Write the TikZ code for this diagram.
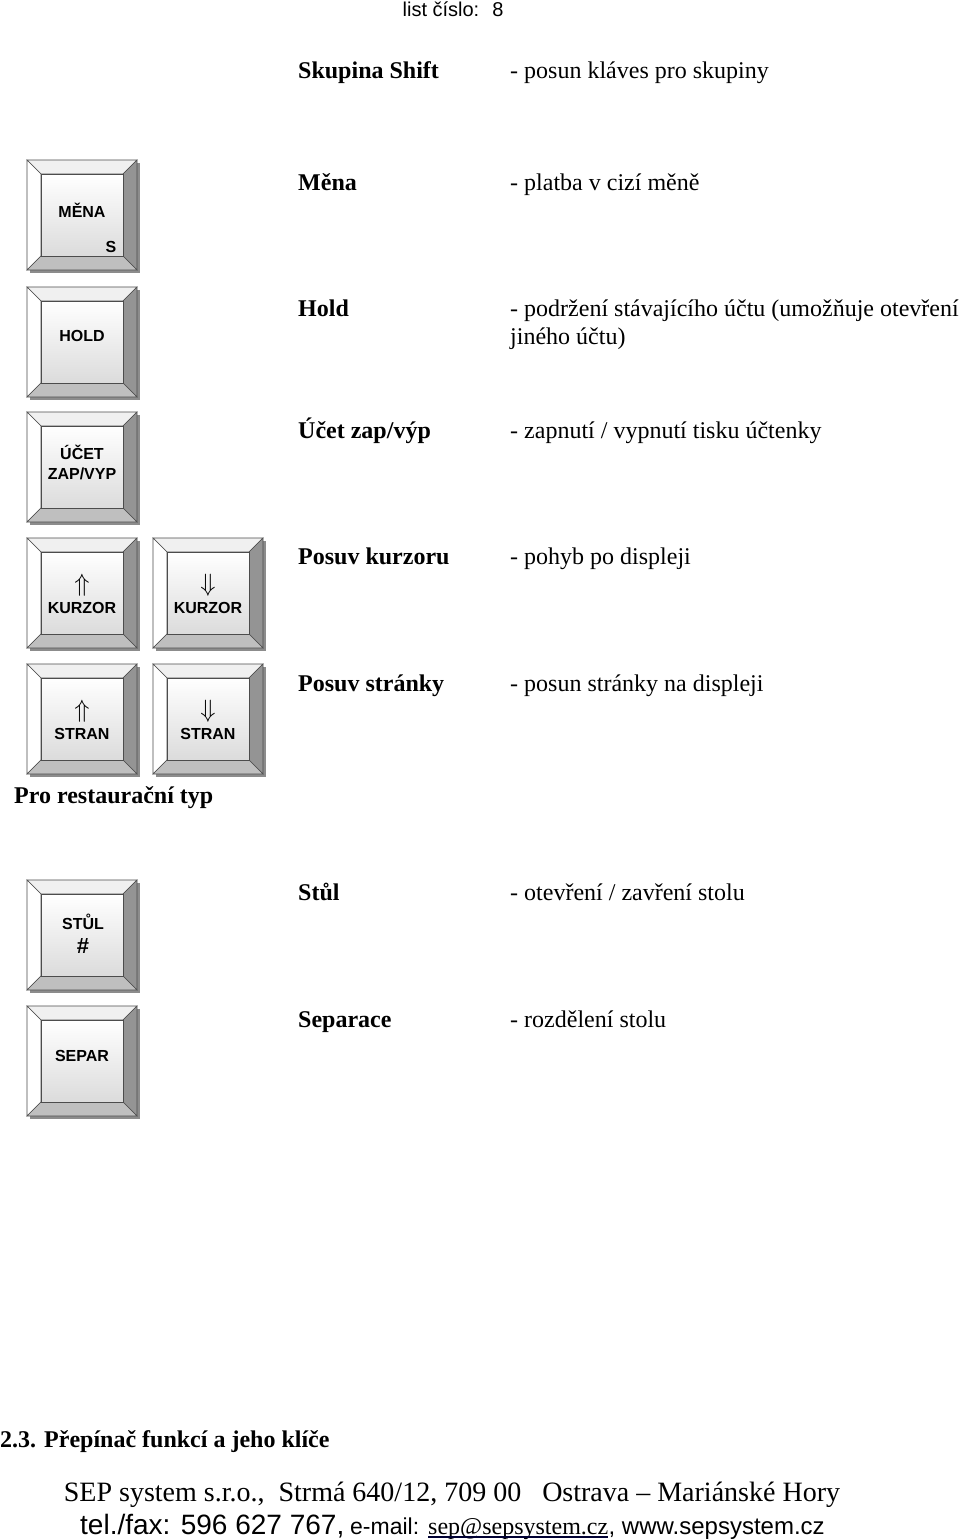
\documentclass[tikz,border=0pt]{standalone}
\usepackage{fontspec}
\setmainfont{Liberation Serif}
\setsansfont{Liberation Sans}
\usepackage{tikz}
\usetikzlibrary{calc}

\tikzset{
    keyshadow/.style = {fill = black!45},
    keyface/.style = {draw = black!70, line width = 0.6pt, top color = white, bottom color = black!14,
                      minimum width = 82pt, minimum height = 82pt, inner sep = 0pt},
    keylbl/.style = {font = \sffamily\bfseries\fontsize{16}{20}\selectfont, align = center, inner sep = 0pt},
    keyarrow/.style = {inner sep = 0pt}
}
\tikzset{
    rowname/.style = {anchor = base west, inner sep = 0pt, font = \bfseries\fontsize{24}{28}\selectfont},
    rowdesc/.style = {anchor = base west, inner sep = 0pt, font = \fontsize{24}{28}\selectfont}
}

\begin{document}
\begin{tikzpicture}[x = 1pt, y = -1pt]
    \useasboundingbox[fill = white] (0,0) rectangle (960,1540);

    % keys
    \foreach \nm/\kx/\ky in {mena/27/160, hold/27/287, ucet/27/412, kup/27/538, kdown/153/538,
                             sup/27/664, sdown/153/664, stul/27/880, separ/27/1006}{
        \fill[keyshadow] (\kx+3,\ky+3) rectangle (\kx+113,\ky+113);
        \draw[black!70, line width = 0.6pt, fill = black!6]
            (\kx,\ky) -- (\kx+110,\ky) -- (\kx+96,\ky+14) -- (\kx+14,\ky+14) -- cycle;
        \draw[black!70, line width = 0.6pt, fill = white]
            (\kx,\ky) -- (\kx+14,\ky+14) -- (\kx+14,\ky+96) -- (\kx,\ky+110) -- cycle;
        \draw[black!70, line width = 0.6pt, fill = black!42]
            (\kx+110,\ky) -- (\kx+110,\ky+110) -- (\kx+96,\ky+96) -- (\kx+96,\ky+14) -- cycle;
        \draw[black!70, line width = 0.6pt, fill = black!25]
            (\kx,\ky+110) -- (\kx+110,\ky+110) -- (\kx+96,\ky+96) -- (\kx+14,\ky+96) -- cycle;
        \node[keyface] (\nm) at (\kx+55,\ky+55) {};
    }

    % key labels
    \node[keylbl] (menaL) at (82,210) {MĚNA};
    \node[keylbl] (menaS) at (111,247) {S};
    \node[keylbl] (holdL) at (82,336) {HOLD};
    \node[keylbl] (ucetL) at (82,462) {ÚČET\\ZAP/VYP};
    \node[keyarrow] (kupA) at (82,585) {\scalebox{2.5}{$\Uparrow$}};
    \node[keylbl] (kupL) at (82,608) {KURZOR};
    \node[keyarrow] (kdownA) at (208,585) {\scalebox{2.5}{$\Downarrow$}};
    \node[keylbl] (kdownL) at (208,608) {KURZOR};
    \node[keyarrow] (supA) at (82,711) {\scalebox{2.5}{$\Uparrow$}};
    \node[keylbl] (supL) at (82,734) {STRAN};
    \node[keyarrow] (sdownA) at (208,711) {\scalebox{2.5}{$\Downarrow$}};
    \node[keylbl] (sdownL) at (208,734) {STRAN};
    \node[keylbl] (stulL) at (83,922) {STŮL};
    \node[keylbl, font = \sffamily\bfseries\fontsize{22}{24}\selectfont] (stulH) at (83,946) {\#};
    \node[keylbl] (separL) at (82,1056) {SEPAR};

    % header
    \node[anchor = base, inner sep = 0pt, font = \sffamily\fontsize{20}{24}\selectfont] (list) at (453,16) {list číslo:~ 8};

    % rows
    \node[rowname] (skupN) at (298,78) {Skupina Shift};
    \node[rowdesc] (skupD) at (510,78) {- posun kláves pro skupiny};
    \node[rowname] (menaN) at (298,190) {Měna};
    \node[rowdesc] (menaD) at (510,190) {- platba v cizí měně};
    \node[rowname] (holdN) at (298,316) {Hold};
    \node[rowdesc] (holdD) at (510,316) {- podržení stávajícího účtu (umožňuje otevření};
    \node[rowdesc] (holdD2) at (510,344) {jiného účtu)};
    \node[rowname] (ucetN) at (298,438) {Účet zap/výp};
    \node[rowdesc] (ucetD) at (510,438) {- zapnutí / vypnutí tisku účtenky};
    \node[rowname] (kurzN) at (298,564) {Posuv kurzoru};
    \node[rowdesc] (kurzD) at (510,564) {- pohyb po displeji};
    \node[rowname] (stranN) at (298,691) {Posuv stránky};
    \node[rowdesc] (stranD) at (510,691) {- posun stránky na displeji};
    \node[rowname] (restN) at (14,803) {Pro restaurační typ};
    \node[rowname] (stulN) at (298,900) {Stůl};
    \node[rowdesc] (stulD) at (510,900) {- otevření / zavření stolu};
    \node[rowname] (separN) at (298,1027) {Separace};
    \node[rowdesc] (separD) at (510,1027) {- rozdělení stolu};
    \node[rowname] (kapN) at (0,1447) {2.3. Přepínač funkcí a jeho klíče};

    % footer
    \node[anchor = base, inner sep = 0pt, font = \fontsize{28}{30}\selectfont] (adr) at (452,1501)
        {SEP system s.r.o.,\ \ Strmá 640/12, 709 00\ \ \ Ostrava -- Mariánské Hory};
    \node[anchor = base west, inner sep = 0pt, font = \sffamily\fontsize{28}{30}\selectfont] (tel) at (80,1534)
        {tel./fax: 596 627 767,};
    \node[anchor = base west, inner sep = 0pt, font = \sffamily\fontsize{23}{30}\selectfont] (mail) at (350,1534)
        {e-mail:};
    \node[anchor = base west, inner sep = 0pt, font = \fontsize{24}{30}\selectfont] (adresa) at (428,1534)
        {sep@sepsystem.cz};
    \node[anchor = base west, inner sep = 0pt, font = \sffamily\fontsize{24}{30}\selectfont] (www) at (adresa.base east)
        {, www.sepsystem.cz};
    \draw[black!80!blue, line width = 1.2pt] ([yshift = -3pt]adresa.base west) -- ([yshift = -3pt]adresa.base east);
\end{tikzpicture}
\end{document}
